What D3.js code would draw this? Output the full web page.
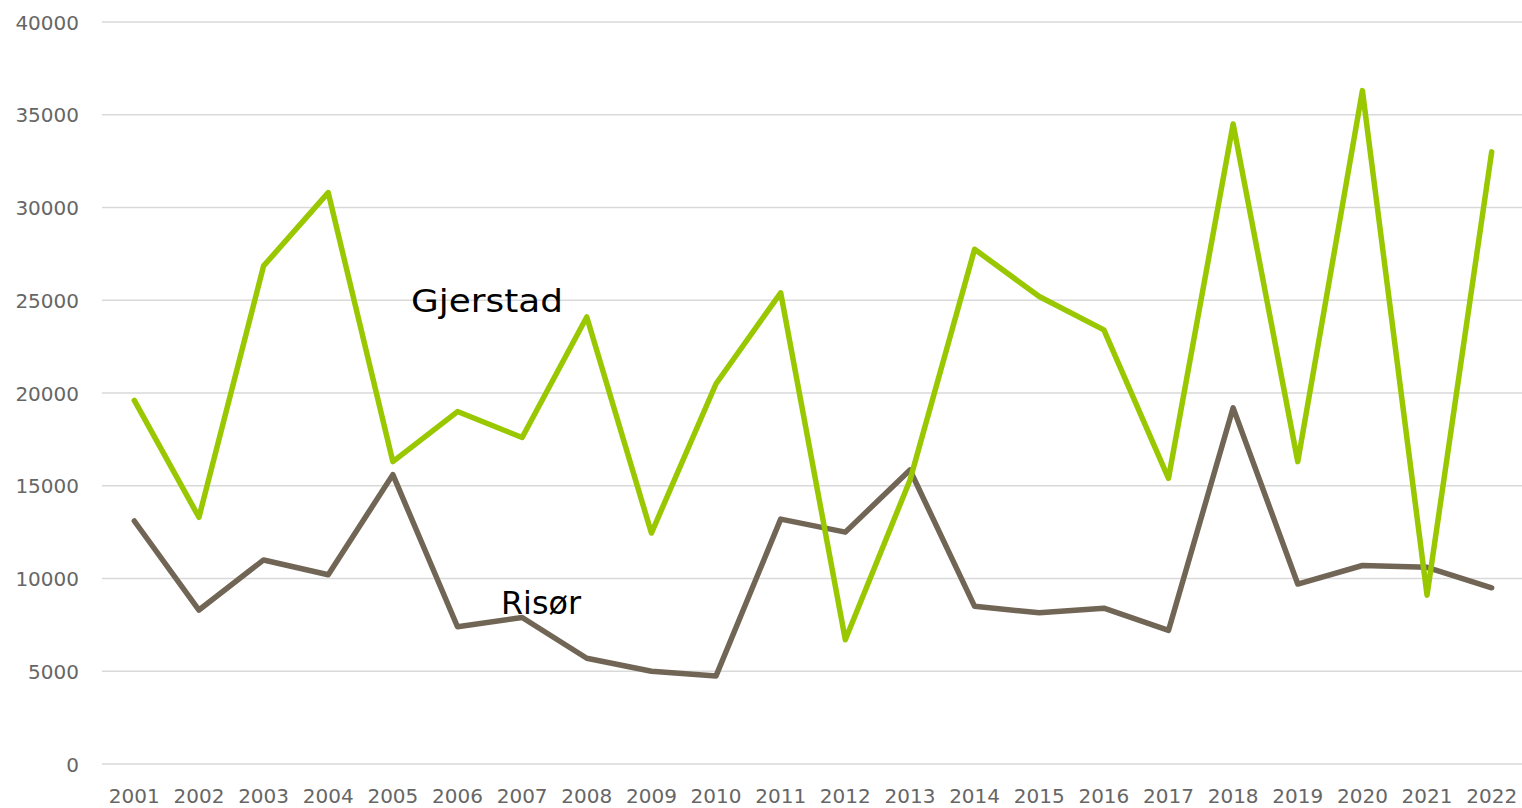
<!DOCTYPE html>
<html>
<head>
<meta charset="utf-8">
<script src="https://cdn.jsdelivr.net/npm/d3@7"></script>
<style>
html,body{margin:0;padding:0;background:#fff;}
svg{display:block;}
</style>
</head>
<body>
<svg id="chart" width="1522" height="808"></svg>
<script>
const years = ["2001","2002","2003","2004","2005","2006","2007","2008","2009","2010","2011","2012","2013","2014","2015","2016","2017","2018","2019","2020","2021","2022"];
const gjerstad = [19600,13300,26850,30800,16300,19000,17600,24100,12450,20500,25400,6700,15300,27750,25200,23400,15400,34500,16300,36300,9100,33000];
const risor = [13100,8300,11000,10200,15600,7400,7900,5700,5000,4750,13200,12500,15850,8500,8150,8400,7200,19200,9700,10700,10600,9500];
const yTicks = [0,5000,10000,15000,20000,25000,30000,35000,40000];
const seriesNames = ["Gjerstad","Risør"];

(function(){
const svg = d3.select("#chart");
const pL = 102, pR = 1524, pT = 22, pB = 764;
const x = d3.scaleBand().domain(years).range([pL, pR]);
const y = d3.scaleLinear().domain([0,40000]).range([pB, pT]);
const font = "'DejaVu Sans', sans-serif";

// gridlines
svg.append("g").selectAll("line").data(yTicks).join("line")
  .attr("x1", pL).attr("x2", 1522)
  .attr("y1", d => y(d)).attr("y2", d => y(d))
  .attr("stroke", "#d9d9d9").attr("stroke-width", 1.5);

// y axis labels
const yAxis = d3.axisLeft(y).tickValues(yTicks).tickSize(0).tickPadding(0).tickFormat(d3.format("d"));
const gy = svg.append("g").attr("transform", `translate(79,0)`).call(yAxis);
gy.select(".domain").remove();
gy.selectAll("text").attr("fill", "#666666").attr("font-size", 20).attr("font-family", font).attr("dy","0.35em");

// x axis labels
const xAxis = d3.axisBottom(x).tickSize(0).tickPadding(0);
const gx = svg.append("g").attr("transform", `translate(0,${pB})`).call(xAxis);
gx.select(".domain").remove();
gx.selectAll("text").attr("fill", "#666666").attr("font-size", 20).attr("font-family", font)
  .attr("dy", "0").attr("y", 39);

const line = d3.line().x((d,i) => x(years[i]) + x.bandwidth()/2).y(d => y(d));

svg.append("path").datum(risor).attr("d", line)
  .attr("fill","none").attr("stroke","#716656").attr("stroke-width",5.5)
  .attr("stroke-linejoin","round").attr("stroke-linecap","round");
svg.append("path").datum(gjerstad).attr("d", line)
  .attr("fill","none").attr("stroke","#99c800").attr("stroke-width",5.5)
  .attr("stroke-linejoin","round").attr("stroke-linecap","round");

// series labels
svg.append("text").attr("x", 411).attr("y", 312).text(seriesNames[0])
  .attr("font-family", font).attr("font-size", 32).attr("fill","#000")
  .attr("textLength", 152).attr("lengthAdjust","spacingAndGlyphs");
svg.append("text").attr("x", 501).attr("y", 614).text(seriesNames[1])
  .attr("font-family", font).attr("font-size", 32).attr("fill","#000")
  .attr("textLength", 80).attr("lengthAdjust","spacingAndGlyphs");
})();
</script>
</body>
</html>
